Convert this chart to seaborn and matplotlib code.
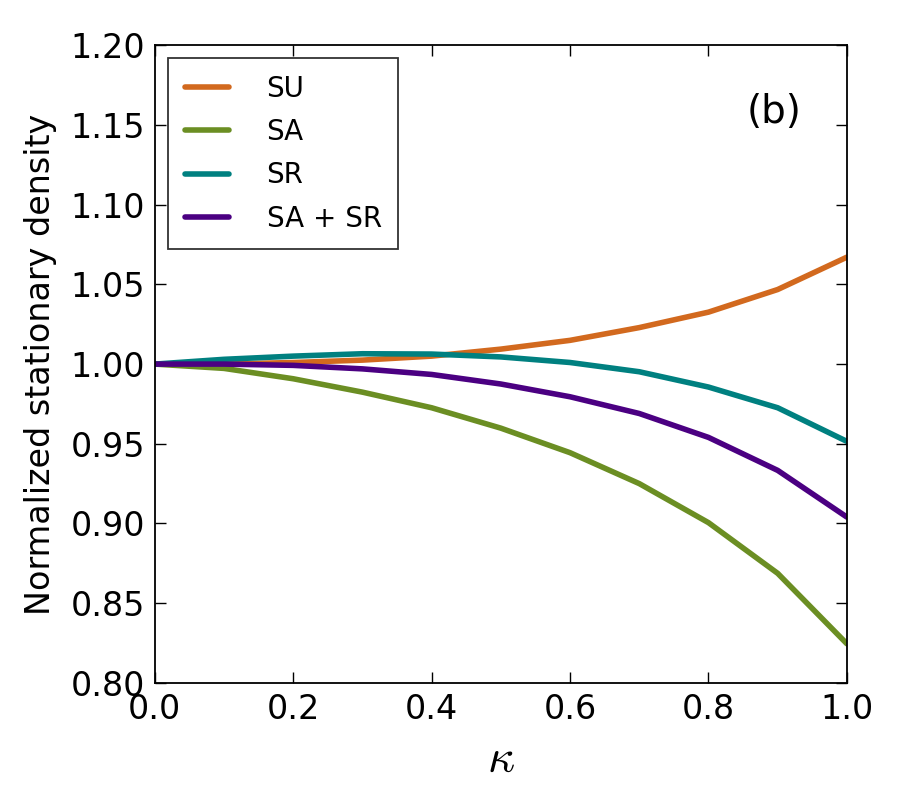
import numpy as np
import pandas as pd
import matplotlib.pyplot as plt
import seaborn as sns

kappa = [0.0, 0.1, 0.2, 0.3, 0.4, 0.5, 0.6, 0.7, 0.8, 0.9, 1.0]
su = [1.000, 1.000, 1.001, 1.0025, 1.005, 1.0094, 1.0149, 1.0229, 1.0326, 1.0468, 1.0671]
sa = [1.000, 0.9973, 0.9908, 0.9824, 0.9726, 0.9598, 0.9444, 0.925, 0.9005, 0.8687, 0.8245]
sr = [1.000, 1.003, 1.005, 1.0065, 1.0063, 1.0045, 1.001, 0.9952, 0.9856, 0.9726, 0.9515]
sa_sr = [1.000, 1.000, 0.9992, 0.997, 0.9935, 0.9875, 0.9795, 0.969, 0.954, 0.9333, 0.904]

labels = ['SU', 'SA', 'SR', 'SA + SR']
colors = ['#D2691E', '#6B8E23', '#008080', '#4B0082']

df = pd.DataFrame({
    'kappa': kappa * 4,
    'density': su + sa + sr + sa_sr,
    'model': np.repeat(labels, len(kappa)),
})

sns.set_style('ticks', {'xtick.direction': 'in', 'ytick.direction': 'in',
                        'axes.edgecolor': 'black', 'text.color': 'black',
                        'axes.labelcolor': 'black', 'xtick.color': 'black',
                        'ytick.color': 'black'})
plt.rcParams['font.family'] = ['DejaVu Sans']
plt.rcParams['mathtext.fontset'] = 'cm'

fig = plt.figure(figsize=(9, 8.1), dpi=100, facecolor='white')
ax = fig.add_axes([0.172, 0.157, 0.769, 0.787])
sns.lineplot(data=df, x='kappa', y='density', hue='model', hue_order=labels,
             palette=colors, linewidth=4, ax=ax)

ax.set_xlim(0, 1)
ax.set_ylim(0.8, 1.2)
ax.set_xticks(np.arange(0, 1.01, 0.2))
ax.set_yticks(np.arange(0.8, 1.201, 0.05))
ax.set_xticklabels([f'{v:.1f}' for v in np.arange(0, 1.01, 0.2)])
ax.set_yticklabels([f'{v:.2f}' for v in np.arange(0.8, 1.201, 0.05)])
ax.tick_params(direction='in', top=True, right=True, length=8, width=1,
               labelsize=24, pad=7, colors='black')
for s in ax.spines.values():
    s.set_linewidth(1.3)
    s.set_color('black')
    s.set_visible(True)

ax.set_xlabel(r'$\kappa$', fontsize=34, labelpad=8)
ax.set_ylabel('Normalized stationary density', fontsize=24, labelpad=10)
ax.text(0.935, 0.895, '(b)', transform=ax.transAxes, fontsize=28,
        ha='right', va='center')

leg = ax.legend(loc='upper left', fontsize=20, handlelength=1.6,
                borderpad=0.6, labelspacing=0.55, handletextpad=1.35,
                frameon=True, fancybox=False, borderaxespad=0,
                bbox_to_anchor=(0.019, 0.98))
leg.get_frame().set_edgecolor('black')
leg.get_frame().set_linewidth(1.3)
for line in leg.get_lines():
    line.set_linewidth(4)

fig.savefig('out.png', dpi=100, facecolor='white')
